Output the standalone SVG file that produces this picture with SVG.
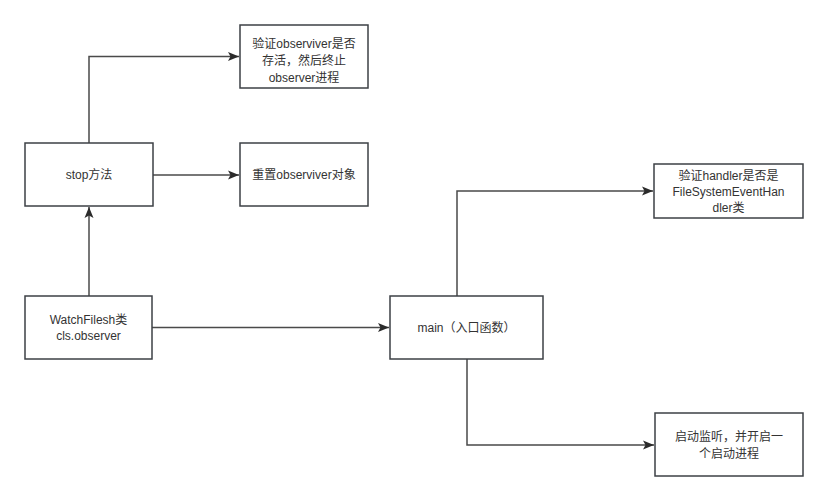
<svg xmlns="http://www.w3.org/2000/svg" width="828" height="501" viewBox="0 0 828 501">
<defs>
<style>
.box{fill:#ffffff;stroke:#3d4045;stroke-width:1.5}
.t{font-family:"Liberation Sans","Noto Sans CJK SC",sans-serif;font-size:12px;fill:#333333;text-anchor:middle}
.c{fill:none;stroke:#4a4a4a;stroke-width:1.5}
</style>
<marker id="ah" markerWidth="12" markerHeight="10" refX="11" refY="5" orient="auto" markerUnits="userSpaceOnUse">
<path d="M0,0.5 L11,5 L0,9.5 L2.5,5 Z" fill="#2b2b2b"/>
</marker>
</defs>
<rect width="828" height="501" fill="#ffffff"/>
<g id="connectors">
<path class="c" d="M89,143 L89,56.5 L239,56.5" marker-end="url(#ah)"/>
<path class="c" d="M153,175 L239,175" marker-end="url(#ah)"/>
<path class="c" d="M89,296 L89,207" marker-end="url(#ah)"/>
<path class="c" d="M152,327.5 L389,327.5" marker-end="url(#ah)"/>
<path class="c" d="M457,296 L457,191 L653,191" marker-end="url(#ah)"/>
<path class="c" d="M467,359 L467,445 L654,445" marker-end="url(#ah)"/>
</g>
<g id="n1">
<rect class="box" x="240" y="25" width="128" height="63"/>
<text class="t" x="304" y="48">验证observiver是否</text>
<text class="t" x="304" y="65">存活，然后终止</text>
<text class="t" x="304" y="82">observer进程</text>
</g>
<g id="n2">
<rect class="box" x="25" y="143" width="128" height="63"/>
<text class="t" x="89" y="179">stop方法</text>
</g>
<g id="n3">
<rect class="box" x="240" y="143" width="128" height="63"/>
<text class="t" x="304" y="179">重置observiver对象</text>
</g>
<g id="n4">
<rect class="box" x="654" y="164" width="149" height="54"/>
<text class="t" x="728.5" y="180">验证handler是否是</text>
<text class="t" x="728.5" y="196">FileSystemEventHan</text>
<text class="t" x="728.5" y="212">dler类</text>
</g>
<g id="n5">
<rect class="box" x="25" y="296" width="127" height="63"/>
<text class="t" x="88.5" y="324">WatchFilesh类</text>
<text class="t" x="88.5" y="340">cls.observer</text>
</g>
<g id="n6">
<rect class="box" x="390" y="296" width="153" height="63"/>
<text class="t" x="466.5" y="332">main（入口函数）</text>
</g>
<g id="n7">
<rect class="box" x="655" y="413" width="148" height="63"/>
<text class="t" x="729" y="441">启动监听，并开启一</text>
<text class="t" x="729" y="458">个启动进程</text>
</g>
</svg>
